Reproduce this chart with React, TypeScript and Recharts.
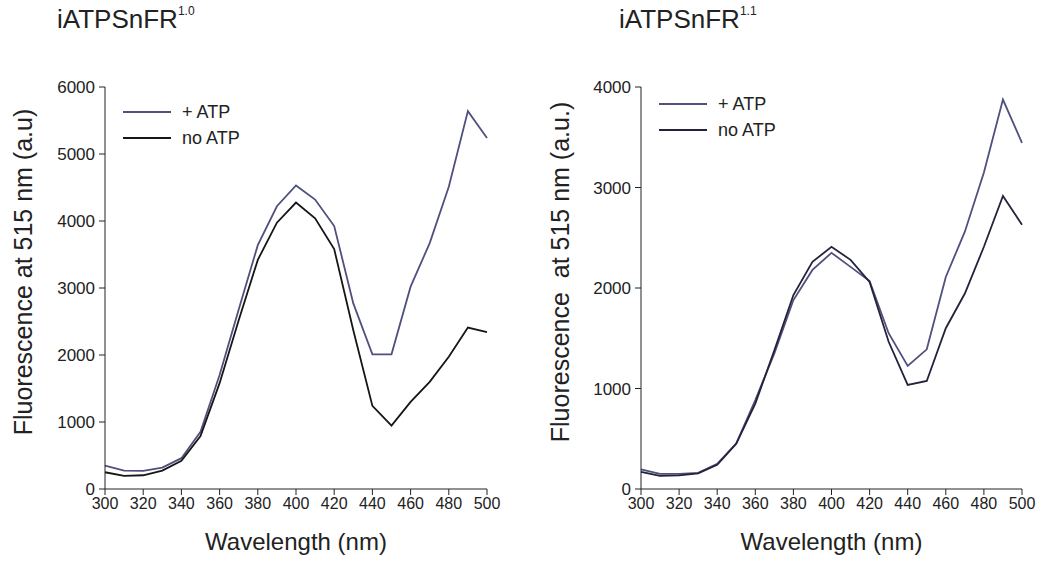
import React from 'react';
import { LineChart, Line, XAxis, YAxis, Label } from 'recharts';

const WAVELENGTHS = [300, 310, 320, 330, 340, 350, 360, 370, 380, 390, 400, 410, 420, 430, 440, 450, 460, 470, 480, 490, 500];

// iATPSnFR 1.0
const ATP_V10 = [350, 275, 270, 320, 460, 855, 1700, 2680, 3640, 4220, 4530, 4320, 3925, 2770, 2010, 2010, 3020, 3670, 4510, 5640, 5240];
const NO_ATP_V10 = [250, 195, 205, 275, 420, 790, 1580, 2520, 3420, 3975, 4275, 4040, 3580, 2370, 1240, 945, 1300, 1600, 1975, 2410, 2340];

// iATPSnFR 1.1
const ATP_V11 = [195, 150, 150, 160, 250, 455, 885, 1350, 1880, 2180, 2350, 2210, 2070, 1550, 1225, 1390, 2110, 2560, 3150, 3875, 3445];
const NO_ATP_V11 = [170, 130, 135, 155, 240, 450, 850, 1380, 1930, 2260, 2410, 2280, 2060, 1465, 1035, 1075, 1600, 1945, 2410, 2915, 2630];

const X_TICKS = [300, 320, 340, 360, 380, 400, 420, 440, 460, 480, 500];
const Y_TICKS_V10 = [0, 1000, 2000, 3000, 4000, 5000, 6000];
const Y_TICKS_V11 = [0, 1000, 2000, 3000, 4000];
const SERIES_NAMES = ['+ ATP', 'no ATP'];

const FONT = '"Liberation Sans", Arial, sans-serif';
const AXIS = '#222';

function buildRows(withAtp: number[], noAtp: number[]) {
  return WAVELENGTHS.map((w, i) => ({ wl: w, atp: withAtp[i], noatp: noAtp[i] }));
}

interface PanelProps {
  left: number;
  width: number;
  axisWidth: number;
  rightMargin: number;
  yTicks: number[];
  rows: { wl: number; atp: number; noatp: number }[];
  yLabel: string;
  labelX: number;
  legendTop: number;
  atpColor: string;
  noAtpColor: string;
}

function LegendBox({ items, left, top }: { items: { name: string; color: string }[]; left: number; top: number }) {
  return (
    <div style={{ position: 'absolute', left, top, fontFamily: FONT, fontSize: 18, color: '#222' }}>
      {items.map(p => (
        <div key={p.name} style={{ display: 'flex', alignItems: 'center', height: 26 }}>
          <svg width={48} height={4}>
            <line x1={0} y1={2} x2={48} y2={2} stroke={p.color} strokeWidth={2} />
          </svg>
          <span style={{ marginLeft: 11 }}>{p.name}</span>
        </div>
      ))}
    </div>
  );
}

function Panel(props: PanelProps) {
  const { left, width, axisWidth, rightMargin, yTicks, rows, yLabel, labelX, legendTop, atpColor, noAtpColor } = props;
  const plotLeft = axisWidth;
  const plotRight = width - rightMargin;
  return (
    <div style={{ position: 'absolute', left, top: 0, width, height: 567 }}>
      <LineChart width={width} height={567} data={rows} margin={{ top: 87, right: rightMargin, bottom: 0, left: 0 }}>
        <XAxis
          dataKey="wl"
          type="number"
          domain={[300, 500]}
          ticks={X_TICKS}
          height={78}
          stroke={AXIS}
          tickSize={6}
          tickMargin={3}
          tick={{ fill: AXIS, fontSize: 16, fontFamily: FONT }}
        >
          <Label
            content={() => (
              <text
                x={(plotLeft + plotRight) / 2}
                y={541}
                textAnchor="middle"
                dominantBaseline="central"
                fontSize={24}
                fontFamily={FONT}
                fill={AXIS}
              >
                Wavelength (nm)
              </text>
            )}
          />
        </XAxis>
        <YAxis
          type="number"
          domain={[0, yTicks[yTicks.length - 1]]}
          ticks={yTicks}
          width={axisWidth}
          stroke={AXIS}
          tickSize={6}
          tickMargin={4}
          tick={{ fill: AXIS, fontSize: 17, fontFamily: FONT }}
        >
          <Label
            content={() => (
              <text
                x={labelX}
                y={272}
                transform={`rotate(-90 ${labelX} 272)`}
                textAnchor="middle"
                dominantBaseline="central"
                fontSize={25}
                fontFamily={FONT}
                fill={AXIS}
                style={{ whiteSpace: 'pre' }}
              >
                {yLabel}
              </text>
            )}
          />
        </YAxis>
        <Line dataKey="atp" name={SERIES_NAMES[0]} stroke={atpColor} strokeWidth={1.8} dot={false} isAnimationActive={false} />
        <Line dataKey="noatp" name={SERIES_NAMES[1]} stroke={noAtpColor} strokeWidth={1.8} dot={false} isAnimationActive={false} />
      </LineChart>
      <LegendBox
        left={plotLeft + 18}
        top={legendTop}
        items={[
          { name: SERIES_NAMES[0], color: atpColor },
          { name: SERIES_NAMES[1], color: noAtpColor },
        ]}
      />
    </div>
  );
}

function Title({ left, sup }: { left: number; sup: string }) {
  return (
    <div style={{ position: 'absolute', left, top: 4, fontFamily: FONT, fontSize: 26, color: '#222', whiteSpace: 'nowrap' }}>
      iATPSnFR<sup style={{ fontSize: 12, verticalAlign: 'top', position: 'relative', top: 0 }}>{sup}</sup>
    </div>
  );
}

export default function App() {
  return (
    <div style={{ position: 'absolute', left: 0, top: 0, width: 1041, height: 567, background: '#fff', fontFamily: FONT }}>
      <Panel
        left={0}
        width={520}
        axisWidth={105}
        rightMargin={33}
        yTicks={Y_TICKS_V10}
        rows={buildRows(ATP_V10, NO_ATP_V10)}
        yLabel="Fluorescence at 515 nm (a.u)"
        labelX={23}
        legendTop={99}
        atpColor="#50507f"
        noAtpColor="#161616"
      />
      <Panel
        left={520}
        width={521}
        axisWidth={121}
        rightMargin={19}
        yTicks={Y_TICKS_V11}
        rows={buildRows(ATP_V11, NO_ATP_V11)}
        yLabel="Fluorescence  at 515 nm (a.u.)"
        labelX={40}
        legendTop={91}
        atpColor="#50507f"
        noAtpColor="#22223a"
      />
      <Title left={57} sup="1.0" />
      <Title left={619} sup="1.1" />
    </div>
  );
}
